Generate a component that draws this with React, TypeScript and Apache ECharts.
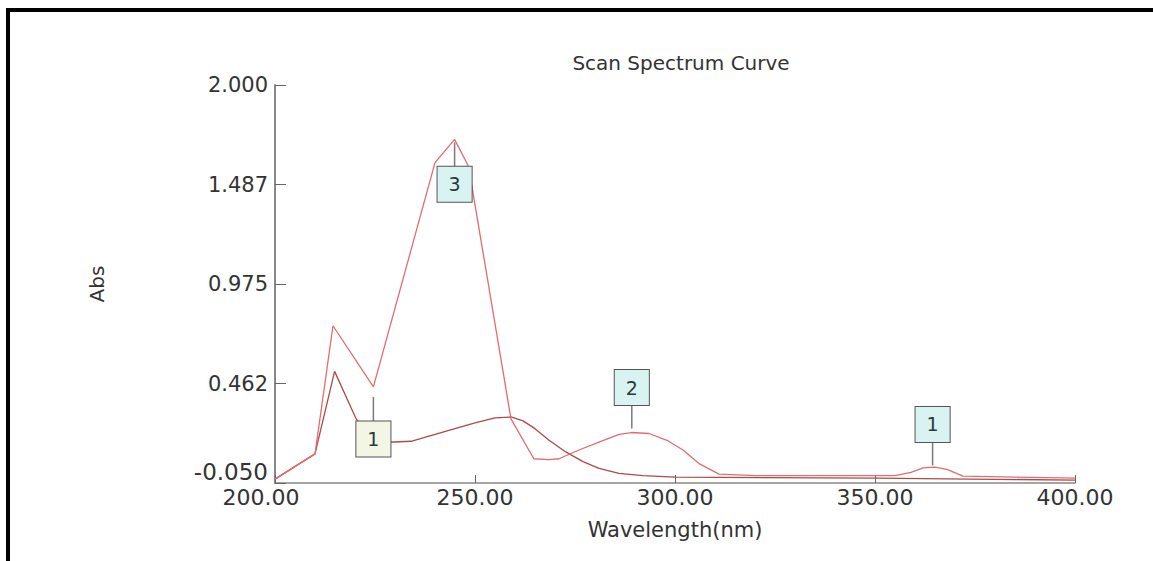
import React, { useEffect, useRef } from "react";
import * as echarts from "echarts";

const wavelengthA = [200, 210, 214.5, 224.6, 240, 244.9, 248.4, 259, 264.7, 268.5, 271, 276, 281, 286, 289.2, 293.5, 298, 302, 306, 311, 320, 340, 355, 359, 362, 365, 368, 372, 385, 400];
const absA = [-0.03, 0.1, 0.76, 0.445, 1.6, 1.72, 1.58, 0.28, 0.075, 0.07, 0.075, 0.12, 0.16, 0.2, 0.21, 0.205, 0.17, 0.12, 0.05, -0.004, -0.012, -0.012, -0.012, 0.005, 0.028, 0.032, 0.02, -0.015, -0.02, -0.025];

const wavelengthB = [200, 210, 214.9, 220.3, 224, 228.3, 234, 240, 245, 250, 255, 259, 262, 265, 268.5, 272.7, 277, 281, 286, 292, 300, 350, 400];
const absB = [-0.03, 0.1, 0.525, 0.28, 0.19, 0.16, 0.165, 0.2, 0.23, 0.26, 0.285, 0.29, 0.27, 0.23, 0.17, 0.11, 0.06, 0.025, 0.0, -0.012, -0.02, -0.025, -0.035];

const peakLabels = ["1", "3", "2", "1"];
const peakX = [224.6, 244.9, 289.2, 364.4];
const peakY = [0.445, 1.72, 0.21, 0.03];

const yTickValues = [-0.05, 0.4625, 0.975, 1.4875, 2.0];
const yTickLabels = ["-0.050", "0.462", "0.975", "1.487", "2.000"];
const xTickValues = [200, 250, 300, 350, 400];
const xTickLabels = ["200.00", "250.00", "300.00", "350.00", "400.00"];

const FONT = "DejaVu Sans";

export default function App() {
  const ref = useRef<HTMLDivElement>(null);

  useEffect(() => {
    if (!ref.current) return;
    const chart = echarts.init(ref.current, undefined, { renderer: "svg" });

    const annotStyle = [
      { dir: 1, start: 10, len: 24, fill: "#f3f6e4" },
      { dir: 1, start: 3, len: 24, fill: "#d8f3f2" },
      { dir: -1, start: 4, len: 23, fill: "#d8f3f2" },
      { dir: -1, start: 2, len: 23, fill: "#d8f3f2" },
    ];

    const markData = peakLabels.map((lab, i) => {
      const s = annotStyle[i];
      const center = s.dir * (s.start + s.len / 2);
      return {
        coord: [peakX[i], peakY[i]],
        value: lab,
        symbol: "rect",
        symbolSize: [1.5, s.len],
        symbolOffset: [0, center],
        itemStyle: { color: "#7a7a7a" },
        label: {
          show: true,
          position: "inside",
          formatter: lab,
          offset: [0, s.dir * (s.len / 2 + 18)],
          backgroundColor: s.fill,
          borderColor: "#555",
          borderWidth: 1,
          padding: [8, 11, 7, 11],
          lineHeight: 20,
          fontSize: 19,
          fontFamily: FONT,
          color: "#2a3a3a",
        },
      };
    });

    chart.setOption({
      animation: false,
      backgroundColor: "#ffffff",
      title: {
        text: "Scan Spectrum Curve",
        left: 676,
        textAlign: "center",
        top: 48,
        textStyle: { fontFamily: FONT, fontSize: 20, fontWeight: "normal", color: "#333" },
      },
      grid: { left: 275, right: 78, top: 85, bottom: 78, containLabel: false },
      xAxis: {
        type: "value",
        min: 200,
        max: 400,
        interval: 50,
        name: "Wavelength(nm)",
        nameLocation: "middle",
        nameGap: 36,
        nameTextStyle: { fontFamily: FONT, fontSize: 21, color: "#333" },
        axisLine: { show: true, onZero: false, lineStyle: { color: "#888", width: 1.5 } },
        axisTick: { show: true, inside: true, length: 8, lineStyle: { color: "#666" } },
        splitLine: { show: false },
        axisLabel: {
          margin: 3,
          fontFamily: FONT,
          fontSize: 22,
          color: "#333",
          formatter: (v: number) => {
            const i = xTickValues.indexOf(v);
            const t = i >= 0 ? xTickLabels[i] : String(v);
            return i === 0 ? "{f|" + t + "}" : t;
          },
          rich: {
            f: { fontFamily: FONT, fontSize: 22, color: "#333", padding: [0, 28, 0, 0] },
          },
        },
      },
      yAxis: {
        type: "value",
        min: -0.05,
        max: 2.0,
        name: "Abs",
        nameLocation: "middle",
        nameGap: 168,
        nameTextStyle: { fontFamily: FONT, fontSize: 20, color: "#333" },
        axisLine: { show: true, onZero: false, lineStyle: { color: "#888", width: 2 } },
        axisTick: {
          show: true,
          inside: true,
          length: 11,
          customValues: yTickValues,
          lineStyle: { color: "#666" },
        },
        splitLine: { show: false },
        axisLabel: {
          customValues: yTickValues,
          margin: 7,
          fontFamily: FONT,
          fontSize: 21,
          color: "#333",
          formatter: (v: number) => {
            let best = 0;
            for (let i = 1; i < yTickValues.length; i++) {
              if (Math.abs(yTickValues[i] - v) < Math.abs(yTickValues[best] - v)) best = i;
            }
            const t = yTickLabels[best];
            return best === 0 ? "{lo|" + t + "}" : t;
          },
          rich: {
            lo: { fontFamily: FONT, fontSize: 23, color: "#333", padding: [0, 0, 22, 0] },
          },
        },
      },
      series: [
        {
          type: "line",
          name: "Scan 1",
          data: wavelengthB.map((x, i) => [x, absB[i]]),
          showSymbol: false,
          lineStyle: { color: "#ad4a4a", width: 1.3 },
          itemStyle: { color: "#ad4a4a" },
          z: 2,
        },
        {
          type: "line",
          name: "Scan 2",
          data: wavelengthA.map((x, i) => [x, absA[i]]),
          showSymbol: false,
          lineStyle: { color: "#e56b70", width: 1.3 },
          itemStyle: { color: "#e56b70" },
          z: 3,
          markPoint: { data: markData, z: 5 },
        },
      ],
      graphic: [
        { type: "rect", left: 6, top: 8, shape: { width: 1147, height: 4 }, style: { fill: "#000" } },
        { type: "rect", left: 6, top: 8, shape: { width: 4, height: 553 }, style: { fill: "#000" } },
      ],
    });

    return () => chart.dispose();
  }, []);

  return (
    <div
      ref={ref}
      style={{ position: "absolute", left: 0, top: 0, width: 1153, height: 561 }}
    />
  );
}
